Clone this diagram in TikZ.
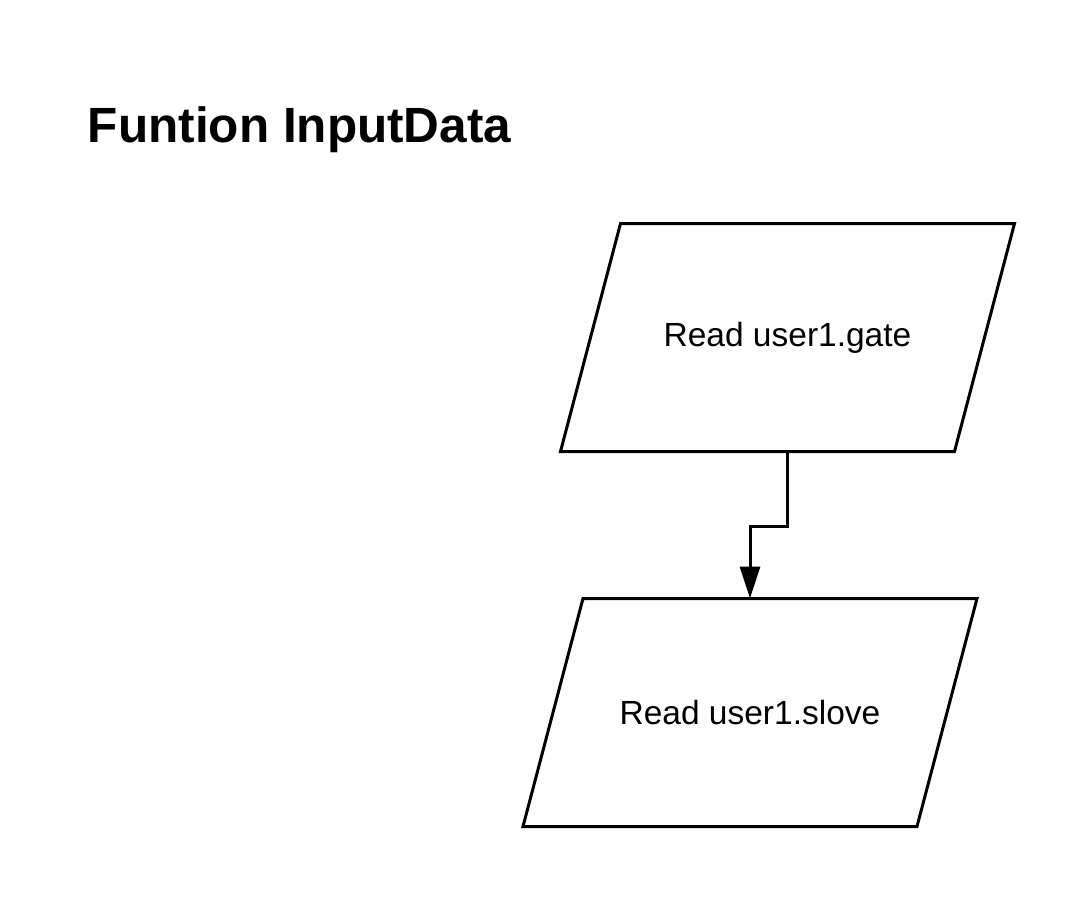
\documentclass[tikz,border=0pt]{standalone}
\usepackage{fontspec}
\setmainfont{Liberation Sans}
\usetikzlibrary{arrows.meta}

\begin{document}
\begin{tikzpicture}[x=1pt, y=-1pt, line width=3pt,
    iobox/.style={black,rectangle,minimum width=391pt,minimum height=225pt,inner sep=0pt,
      font=\fontsize{33.5}{40}\selectfont}]

  % Page area
  \useasboundingbox (0,0) rectangle (1088,900);

  % Title
  \node[black,anchor=base west,font=\fontsize{49.5}{59}\bfseries\selectfont] (title) at (83,142) {Funtion InputData};

  % Input boxes
  \node[iobox] (gate) at (787.5,337.5) {Read user1.gate};
  \node[iobox] (slove) at (750,712.5) {Read user1.slove};

  % Slanted outlines round the boxes
  \draw[black,line join=miter] ([xshift=30pt]gate.north west) -- ([xshift=30pt]gate.north east)
    -- ([xshift=-30pt]gate.south east) -- ([xshift=-30pt]gate.south west) -- cycle;
  \draw[black,line join=miter] ([xshift=30pt]slove.north west) -- ([xshift=30pt]slove.north east)
    -- ([xshift=-30pt]slove.south east) -- ([xshift=-30pt]slove.south west) -- cycle;

  % Connector
  \draw[-{Triangle[length=32pt,width=20pt]}] (gate.south) -- ++(0,75) -| (slove.north);

\end{tikzpicture}
\end{document}
